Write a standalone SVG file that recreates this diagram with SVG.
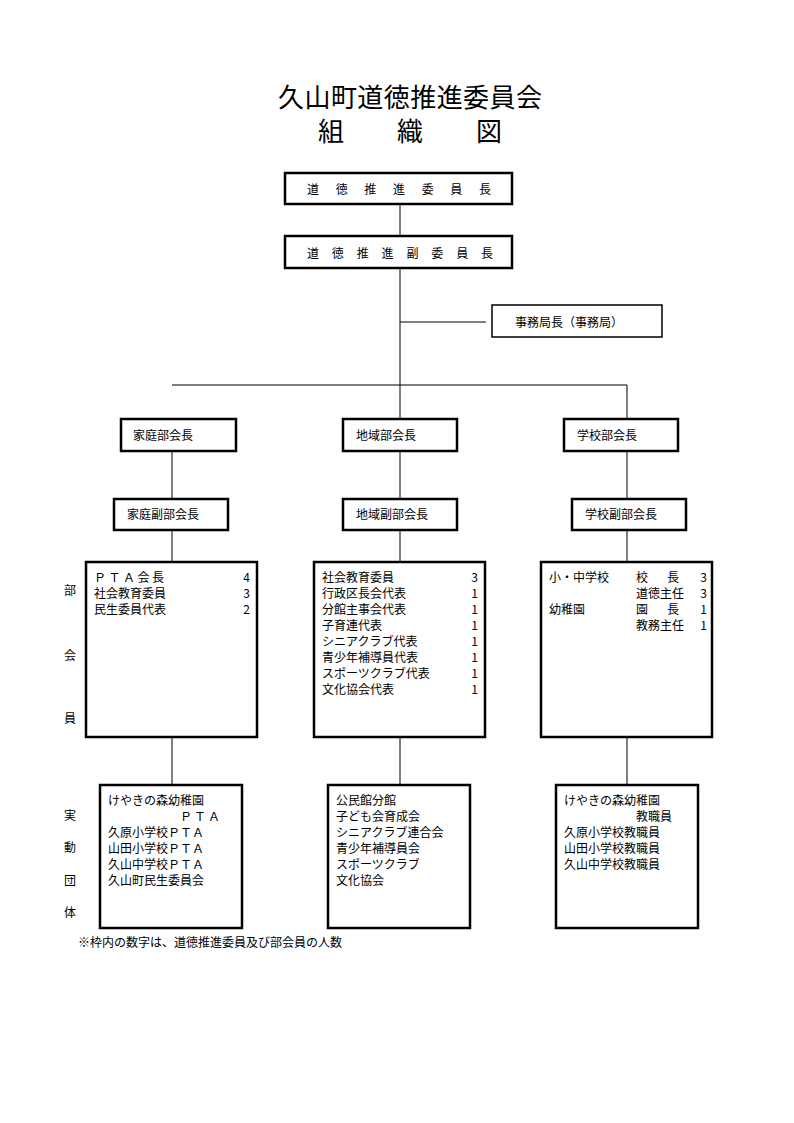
<svg xmlns="http://www.w3.org/2000/svg" width="794" height="1123" viewBox="0 0 794 1123">
<style>
text{font-family:"Noto Sans CJK JP","Noto Sans CJK SC",sans-serif;font-size:12px;fill:#000}
.t{font-size:26px}
.b{fill:#fff;stroke:#000;stroke-width:2.5}
.b1{fill:#fff;stroke:#000;stroke-width:1.5}
.c line{stroke:#000;stroke-width:1}
.n{text-anchor:end}
</style>
<rect width="794" height="1123" fill="#fff"/>
<text class="t" x="278" y="107" textLength="264" lengthAdjust="spacing">久山町道徳推進委員会</text>
<text class="t" x="318" y="141" textLength="184" lengthAdjust="spacing">組織図</text>
<g class="c">
<line x1="400" y1="204" x2="400" y2="385"/>
<line x1="400" y1="322" x2="486" y2="322"/>
<line x1="172" y1="385" x2="627" y2="385"/>
<line x1="400" y1="385" x2="400" y2="419"/>
<line x1="627" y1="385" x2="627" y2="419"/>
<line x1="172" y1="451" x2="172" y2="499"/>
<line x1="400" y1="451" x2="400" y2="499"/>
<line x1="627" y1="451" x2="627" y2="499"/>
<line x1="172" y1="530" x2="172" y2="562"/>
<line x1="400" y1="530" x2="400" y2="562"/>
<line x1="627" y1="530" x2="627" y2="562"/>
<line x1="172" y1="737" x2="172" y2="785"/>
<line x1="400" y1="737" x2="400" y2="785"/>
<line x1="627" y1="737" x2="627" y2="785"/>
</g>
<g id="chair"><rect class="b" x="285" y="173" width="227" height="31"/><text x="307" y="194" textLength="184" lengthAdjust="spacing">道徳推進委員長</text></g>
<g id="vice"><rect class="b" x="285" y="236" width="227" height="32"/><text x="307" y="258" textLength="186" lengthAdjust="spacing">道徳推進副委員長</text></g>
<g id="office"><rect class="b1" x="492" y="305" width="170" height="32"/><text x="515" y="327">事務局長（事務局）</text></g>
<g id="h1"><rect class="b" x="121" y="419" width="115" height="32"/><text x="133" y="440">家庭部会長</text></g>
<g id="h2"><rect class="b" x="343" y="419" width="114" height="32"/><text x="356" y="440">地域部会長</text></g>
<g id="h3"><rect class="b" x="564" y="419" width="114" height="32"/><text x="577" y="440">学校部会長</text></g>
<g id="v1"><rect class="b" x="114" y="499" width="114" height="31"/><text x="127" y="519">家庭副部会長</text></g>
<g id="v2"><rect class="b" x="343" y="499" width="114" height="31"/><text x="356" y="519">地域副部会長</text></g>
<g id="v3"><rect class="b" x="572" y="499" width="114" height="31"/><text x="585" y="519">学校副部会長</text></g>
<g id="labels">
<text x="64" y="595">部</text><text x="64" y="660">会</text><text x="64" y="723">員</text>
<text x="64" y="820">実</text><text x="64" y="852">動</text><text x="64" y="885">団</text><text x="64" y="917">体</text>
</g>
<g id="m1"><rect class="b" x="86" y="562" width="171" height="175"/>
<text x="94" y="582" textLength="70" lengthAdjust="spacing">ＰＴＡ会長</text><text class="n" x="250" y="582">4</text>
<text x="94" y="598">社会教育委員</text><text class="n" x="250" y="598">3</text>
<text x="94" y="614">民生委員代表</text><text class="n" x="250" y="614">2</text></g>
<g id="m2"><rect class="b" x="314" y="562" width="171" height="175"/>
<text x="322" y="582">社会教育委員</text><text class="n" x="478" y="582">3</text>
<text x="322" y="598">行政区長会代表</text><text class="n" x="478" y="598">1</text>
<text x="322" y="614">分館主事会代表</text><text class="n" x="478" y="614">1</text>
<text x="322" y="630">子育連代表</text><text class="n" x="478" y="630">1</text>
<text x="322" y="646">シニアクラブ代表</text><text class="n" x="478" y="646">1</text>
<text x="322" y="662">青少年補導員代表</text><text class="n" x="478" y="662">1</text>
<text x="322" y="678">スポーツクラブ代表</text><text class="n" x="478" y="678">1</text>
<text x="322" y="694">文化協会代表</text><text class="n" x="478" y="694">1</text></g>
<g id="m3"><rect class="b" x="541" y="562" width="171" height="175"/>
<text x="549" y="582">小・中学校</text><text x="636" y="582">校</text><text x="667" y="582">長</text><text class="n" x="707" y="582">3</text>
<text x="636" y="598">道徳主任</text><text class="n" x="707" y="598">3</text>
<text x="549" y="614">幼稚園</text><text x="636" y="614">園</text><text x="667" y="614">長</text><text class="n" x="707" y="614">1</text>
<text x="636" y="630">教務主任</text><text class="n" x="707" y="630">1</text></g>
<g id="a1"><rect class="b" x="100" y="785" width="142" height="143"/>
<text x="108" y="805">けやきの森幼稚園</text>
<text x="180" y="821" textLength="40" lengthAdjust="spacing">ＰＴＡ</text>
<text x="108" y="837">久原小学校ＰＴＡ</text>
<text x="108" y="853">山田小学校ＰＴＡ</text>
<text x="108" y="869">久山中学校ＰＴＡ</text>
<text x="108" y="885">久山町民生委員会</text></g>
<g id="a2"><rect class="b" x="328" y="785" width="142" height="143"/>
<text x="336" y="805">公民館分館</text>
<text x="336" y="821">子ども会育成会</text>
<text x="336" y="837">シニアクラブ連合会</text>
<text x="336" y="853">青少年補導員会</text>
<text x="336" y="869">スポーツクラブ</text>
<text x="336" y="885">文化協会</text></g>
<g id="a3"><rect class="b" x="556" y="785" width="142" height="143"/>
<text x="564" y="805">けやきの森幼稚園</text>
<text x="636" y="821">教職員</text>
<text x="564" y="837">久原小学校教職員</text>
<text x="564" y="853">山田小学校教職員</text>
<text x="564" y="869">久山中学校教職員</text></g>
<text x="78" y="947">※枠内の数字は、道徳推進委員及び部会員の人数</text>
</svg>
